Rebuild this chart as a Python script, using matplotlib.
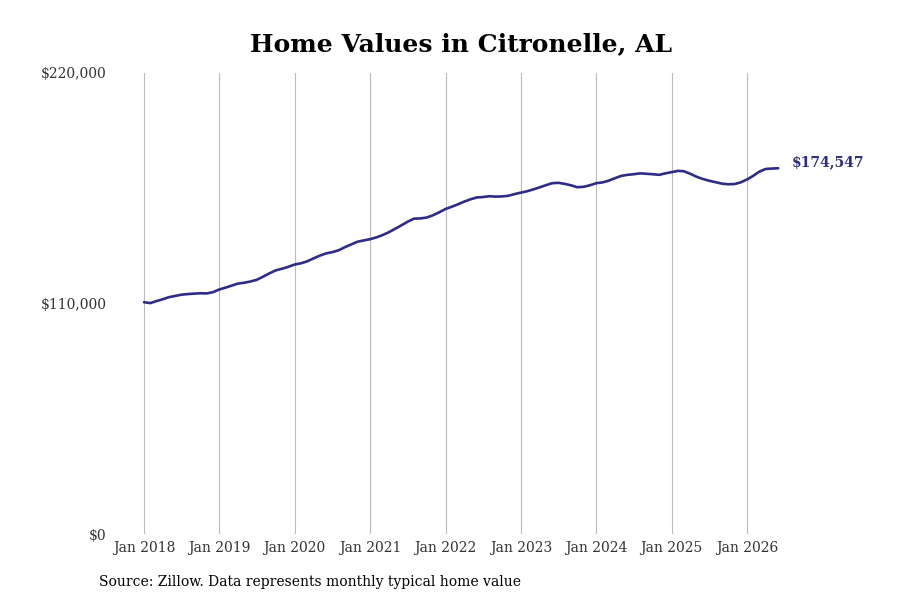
import matplotlib
matplotlib.use("Agg")
import matplotlib.pyplot as plt
import pandas as pd

# Valores mensais (Zillow)
inicio = "2018-01-01"
valores = [
    110600, 110200, 111100, 112000, 113000, 113600, 114200, 114500, 114700, 114900, 114800, 115400,
    116700, 117600, 118500, 119500, 119900, 120500, 121300, 122800, 124400, 125800, 126600, 127500,
    128600, 129200, 130100, 131500, 132800, 133900, 134500, 135400, 136900, 138200, 139500, 140100,
    140700, 141600, 142600, 144000, 145600, 147300, 149000, 150500, 150600, 151000, 152100, 153500,
    155100, 156200, 157300, 158600, 159700, 160600, 160800, 161200, 161000, 161100, 161400, 162200,
    162900, 163600, 164400, 165400, 166400, 167400, 167600, 167100, 166400, 165500, 165700, 166400,
    167400, 167800, 168600, 169800, 170900, 171400, 171700, 172100, 171900, 171700, 171400, 172100,
    172700, 173300, 173100, 171900, 170500, 169400, 168600, 167900, 167200, 166900, 167000, 167800,
    169200, 171000, 172900, 174200, 174400, 174547,
]
anos = list(range(2018, 2027))
rotulos_y = ["$0", "$110,000", "$220,000"]
ticks_y = [0, 110000, 220000]

cor_linha = "#2e2c86"

datas = pd.date_range(inicio, periods=len(valores), freq="MS")
ticks_x = [pd.Timestamp(f"{a}-01-01") for a in anos]

fig = plt.figure(figsize=(9, 6), dpi=100)
ax = fig.add_axes([112 / 900, 66 / 600, 678 / 900, 461 / 600])

ax.plot(datas, valores, color=cor_linha, linewidth=1.9, solid_capstyle="round")

ax.set_xlim(pd.Timestamp("2017-07-30"), pd.Timestamp("2026-07-28"))
ax.set_ylim(0, 220000)
ax.set_xticks(ticks_x)
ax.set_xticklabels([f"Jan {a}" for a in anos], family="DejaVu Serif", fontsize=10, color="#333333")
ax.set_yticks(ticks_y)
ax.set_yticklabels(rotulos_y, family="DejaVu Serif", fontsize=10, color="#333333")
ax.tick_params(axis="both", length=0)
ax.tick_params(axis="x", pad=5)
ax.tick_params(axis="y", pad=4)
ax.grid(axis="x", color="#bbbbbb", linewidth=0.8)
ax.grid(axis="y", visible=False)
for lado in ax.spines.values():
    lado.set_visible(False)

# Rótulo do último valor
ax.annotate(f"${valores[-1]:,}", xy=(datas[-1], valores[-1]), xytext=(10, 4),
            textcoords="offset points", va="center", ha="left",
            family="DejaVu Serif", fontsize=10, fontweight="bold", color=cor_linha)

fig.text(461 / 900, 1 - 44 / 600, "Home Values in Citronelle, AL", ha="center", va="center",
         family="DejaVu Serif", fontsize=18, fontweight="bold", color="black")
fig.text(99 / 900, 1 - 582 / 600, "Source: Zillow. Data represents monthly typical home value",
         ha="left", va="center", family="DejaVu Serif", fontsize=10, color="black")

fig.savefig("out.png", dpi=100)
